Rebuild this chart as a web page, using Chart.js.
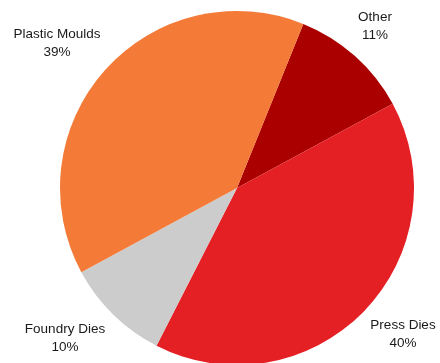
<!DOCTYPE html>
<html>
<head>
<meta charset="utf-8">
<script src="https://cdn.jsdelivr.net/npm/chart.js@4"></script>
<style>
  html, body { margin:0; padding:0; background:#fff; overflow:hidden; }
  #wrap { width:440px; height:363px; overflow:hidden; }
</style>
</head>
<body>
<div id="wrap"><canvas id="pie" width="440" height="376"></canvas></div>
<script>
// ===== Dados =====
const categorias = ['Other', 'Press Dies', 'Foundry Dies', 'Plastic Moulds'];
const valores = [11, 40.4, 9.6, 39];
const cores = ['#AA0000', '#E52025', '#CCCCCC', '#F47A38'];

// posição dos rótulos relativa ao centro do gráfico (px)
const rotulosOffset = [[138, -162], [166, 146], [-172, 150], [-180, -145]];

const rotulosPlugin = {
  id: 'rotulos',
  afterDraw(chart){
    const ctx = chart.ctx;
    const meta = chart.getDatasetMeta(0);
    const total = valores.reduce((a,b)=>a+b,0);
    ctx.save();
    ctx.font = '13.5px "Liberation Sans", Arial, sans-serif';
    ctx.fillStyle = '#1a1a1a';
    ctx.textAlign = 'center';
    ctx.textBaseline = 'middle';
    meta.data.forEach((arc, i)=>{
      const [ox, oy] = rotulosOffset[i];
      const x = arc.x + ox, y = arc.y + oy;
      const pct = Math.round(valores[i] / total * 100) + '%';
      ctx.fillText(categorias[i], x, y - 9);
      ctx.fillText(pct, x, y + 9);
    });
    ctx.restore();
  }
};

new Chart(document.getElementById('pie').getContext('2d'), {
  type: 'pie',
  data: { labels: categorias, datasets: [{ data: valores, backgroundColor: cores, borderWidth: 0 }] },
  options: {
    responsive: false,
    animation: false,
    rotation: 22,
    layout: { padding: { top: 11, bottom: 11, left: 60, right: 26 } },
    plugins: { legend: { display: false }, tooltip: { enabled: false } }
  },
  plugins: [rotulosPlugin]
});
</script>
</body>
</html>
